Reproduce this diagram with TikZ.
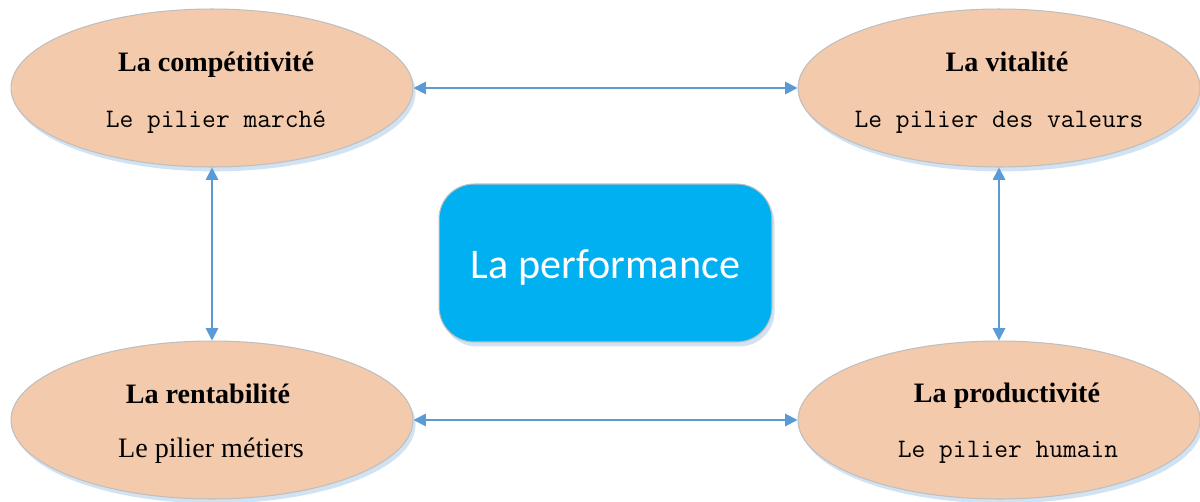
\documentclass[tikz,border=0pt]{standalone}
\usepackage{fontspec}
\setmainfont{Liberation Serif}
\newfontfamily\monofnt{Latin Modern Mono}
\newfontfamily\calfnt{Carlito}
\usetikzlibrary{shapes.geometric,arrows.meta,shadows}
\definecolor{peach}{HTML}{F4CAAC}
\definecolor{rimgray}{HTML}{BFBFBF}
\definecolor{corecyan}{HTML}{00B0F0}
\definecolor{linkblue}{HTML}{5B9BD5}
\definecolor{glowblue}{HTML}{C5DCF0}
\begin{document}
\begin{tikzpicture}[x=0.02cm,y=-0.02cm,
	pillar/.style={ellipse,draw=rimgray,line width=0.6pt,fill=peach,inner sep=0pt,
		minimum width=8.04cm,minimum height=3.16cm,
		drop shadow={shadow xshift=1.5pt,shadow yshift=-2.5pt,fill=glowblue,opacity=0.8}},
	core/.style={rectangle,rounded corners=0.7cm,draw=rimgray,line width=0.6pt,fill=corecyan,
		minimum width=6.66cm,minimum height=3.16cm,text=white,
		font=\calfnt\fontsize{24}{28}\selectfont,
		drop shadow={shadow xshift=1.5pt,shadow yshift=-2.5pt,fill=glowblue,opacity=0.8}},
	titletext/.style={anchor=base,inner sep=0pt,font=\bfseries\fontsize{16}{19}\selectfont},
	subtext/.style={anchor=base,inner sep=0pt,font=\monofnt\fontsize{15.2}{18}\selectfont},
	plaintext/.style={anchor=base,inner sep=0pt,font=\fontsize{16}{19}\selectfont},
	link/.style={draw=linkblue,line width=1.1pt,
		{Triangle[length=7pt,width=7pt]}-{Triangle[length=7pt,width=7pt]}}]
\useasboundingbox (0,0) rectangle (1200,501);

% the four pillars
\node[pillar] (compet) at (212,88) {};
\node[pillar] (vital) at (999,88) {};
\node[pillar] (rentab) at (212,420) {};
\node[pillar] (product) at (999,420) {};

% centre
\node[core] (perf) at (605.5,263) {\raisebox{-2.5pt}[\height][\depth]{La performance}};

% texts
\node[titletext] (competT) at (216,71) {La compétitivité};
\node[subtext] (competS) at (216,127) {Le pilier marché};
\node[titletext] (vitalT) at (1007,71) {La vitalité};
\node[subtext] (vitalS) at (999,127) {Le pilier des valeurs};
\node[titletext] (rentabT) at (208,403) {La rentabilité};
\node[plaintext] (rentabS) at (211,457) {Le pilier métiers};
\node[titletext] (productT) at (1007,402) {La productivité};
\node[subtext] (productS) at (1008,457) {Le pilier humain};

% links
\draw[link] (compet) -- (vital);
\draw[link] (rentab) -- (product);
\draw[link] (compet) -- (rentab);
\draw[link] (vital) -- (product);
\end{tikzpicture}
\end{document}
